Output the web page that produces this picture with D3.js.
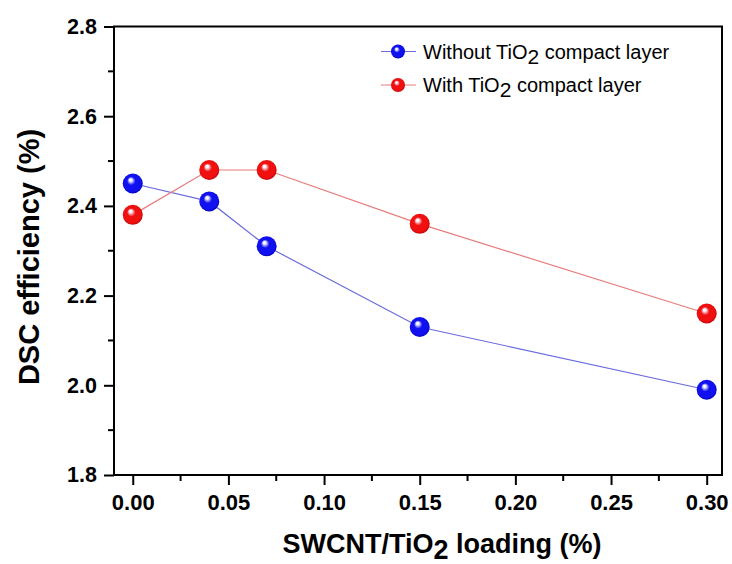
<!DOCTYPE html>
<html><head><meta charset="utf-8">
<script src="https://cdn.jsdelivr.net/npm/d3@7"></script>
<style>body{margin:0;background:#fff}svg{display:block}text{font-family:Arial,"Liberation Sans",sans-serif}</style>
</head><body>
<svg id="c" width="732" height="564"></svg>
<script>
const loadings = [0.00, 0.04, 0.07, 0.15, 0.30];
const withoutCompact = [2.45, 2.41, 2.31, 2.13, 1.99];
const withCompact = [2.38, 2.48, 2.48, 2.36, 2.16];
const xTicks = [0.00, 0.05, 0.10, 0.15, 0.20, 0.25, 0.30];
const yTicks = [1.8, 2.0, 2.2, 2.4, 2.6, 2.8];
const seriesNames = ["Without TiO", "With TiO"];

const svg = d3.select("#c");
const L = 114, R = 722, T = 26.5, B = 475;
const x = d3.scaleLinear().domain([-0.0098, 0.308]).range([L, R]);
const y = d3.scaleLinear().domain([1.8, 2.8]).range([B, T]);

const defs = svg.append("defs");
function grad(id, base, dark) {
  const g = defs.append("radialGradient").attr("id", id)
    .attr("cx", "50%").attr("cy", "50%").attr("r", "55%").attr("fx", "38%").attr("fy", "30%");
  g.append("stop").attr("offset", "0%").attr("stop-color", "#ffffff");
  g.append("stop").attr("offset", "12%").attr("stop-color", "#f4f4ff").attr("stop-opacity", 1);
  g.append("stop").attr("offset", "38%").attr("stop-color", base);
  g.append("stop").attr("offset", "78%").attr("stop-color", base);
  g.append("stop").attr("offset", "100%").attr("stop-color", dark);
}
grad("gb", "#1010f0", "#0000a8");
grad("gr", "#f01010", "#b00000");

// axes
const xAxis = d3.axisBottom(x).tickValues(xTicks).tickFormat(d3.format(".2f")).tickSize(10).tickPadding(9);
const yAxis = d3.axisLeft(y).tickValues(yTicks).tickFormat(d3.format(".1f")).tickSize(10).tickPadding(7);
const gx = svg.append("g").attr("transform", `translate(0,${B})`).call(xAxis);
const gy = svg.append("g").attr("transform", `translate(${L},0)`).call(yAxis);
[gx, gy].forEach(g => {
  g.select(".domain").remove();
  g.selectAll(".tick line").attr("stroke", "#000").attr("stroke-width", 2);
  g.selectAll(".tick text").attr("fill", "#000").attr("font-weight", "bold");
});
gx.selectAll(".tick text").attr("font-size", 22);
gy.selectAll(".tick text").attr("font-size", 21.5);
// minor ticks
const xMinor = d3.range(0.025, 0.3, 0.05);
svg.append("g").selectAll("line").data(xMinor).join("line")
  .attr("x1", d => x(d)).attr("x2", d => x(d)).attr("y1", B).attr("y2", B + 6)
  .attr("stroke", "#000").attr("stroke-width", 2);
const yMinor = [1.9, 2.1, 2.3, 2.5, 2.7];
svg.append("g").selectAll("line").data(yMinor).join("line")
  .attr("x1", L).attr("x2", L - 6).attr("y1", d => y(d)).attr("y2", d => y(d))
  .attr("stroke", "#000").attr("stroke-width", 2);
// frame
svg.append("rect").attr("x", L).attr("y", T).attr("width", R - L).attr("height", B - T)
  .attr("fill", "none").attr("stroke", "#000").attr("stroke-width", 2);

// series
const series = [
  {vals: withoutCompact, line: "#6b6bdc", fill: "url(#gb)"},
  {vals: withCompact, line: "#e87c7c", fill: "url(#gr)"}
];
const lineGen = d3.line().x(d => x(d[0])).y(d => y(d[1]));
series.forEach(s => {
  const pts = loadings.map((l, i) => [l, s.vals[i]]);
  svg.append("path").attr("d", lineGen(pts)).attr("fill", "none").attr("stroke", s.line).attr("stroke-width", 1.2);
});
series.forEach(s => {
  const pts = loadings.map((l, i) => [l, s.vals[i]]);
  svg.append("g").selectAll("circle").data(pts).join("circle")
    .attr("cx", d => x(d[0])).attr("cy", d => y(d[1])).attr("r", 10).attr("fill", s.fill);
});

// legend
const lg = svg.append("g");
series.forEach((s, i) => {
  const yy = 51.5 + i * 33.5;
  lg.append("line").attr("x1", 381).attr("x2", 416).attr("y1", yy).attr("y2", yy).attr("stroke", s.line).attr("stroke-width", 1.2);
  lg.append("circle").attr("cx", 398).attr("cy", yy).attr("r", 7).attr("fill", s.fill);
  const t = lg.append("text").attr("x", 423).attr("y", yy + 7).attr("font-size", 20).attr("fill", "#000");
  t.append("tspan").text(seriesNames[i]);
  t.append("tspan").attr("dy", 5).attr("font-size", 21).text("2");
  t.append("tspan").attr("dy", -5).text(" compact layer");
});

// axis titles
const xt = svg.append("text").attr("x", 442).attr("y", 553).attr("text-anchor", "middle")
  .attr("font-size", 27).attr("font-weight", "bold").attr("fill", "#000");
xt.append("tspan").text("SWCNT/TiO");
xt.append("tspan").attr("dy", 6).text("2");
xt.append("tspan").attr("dy", -6).text(" loading (%)");
svg.append("text").attr("transform", "translate(39,257) rotate(-90)").attr("text-anchor", "middle")
  .attr("font-size", 29).attr("font-weight", "bold").attr("fill", "#000").text("DSC efficiency (%)");
</script>
</body></html>
